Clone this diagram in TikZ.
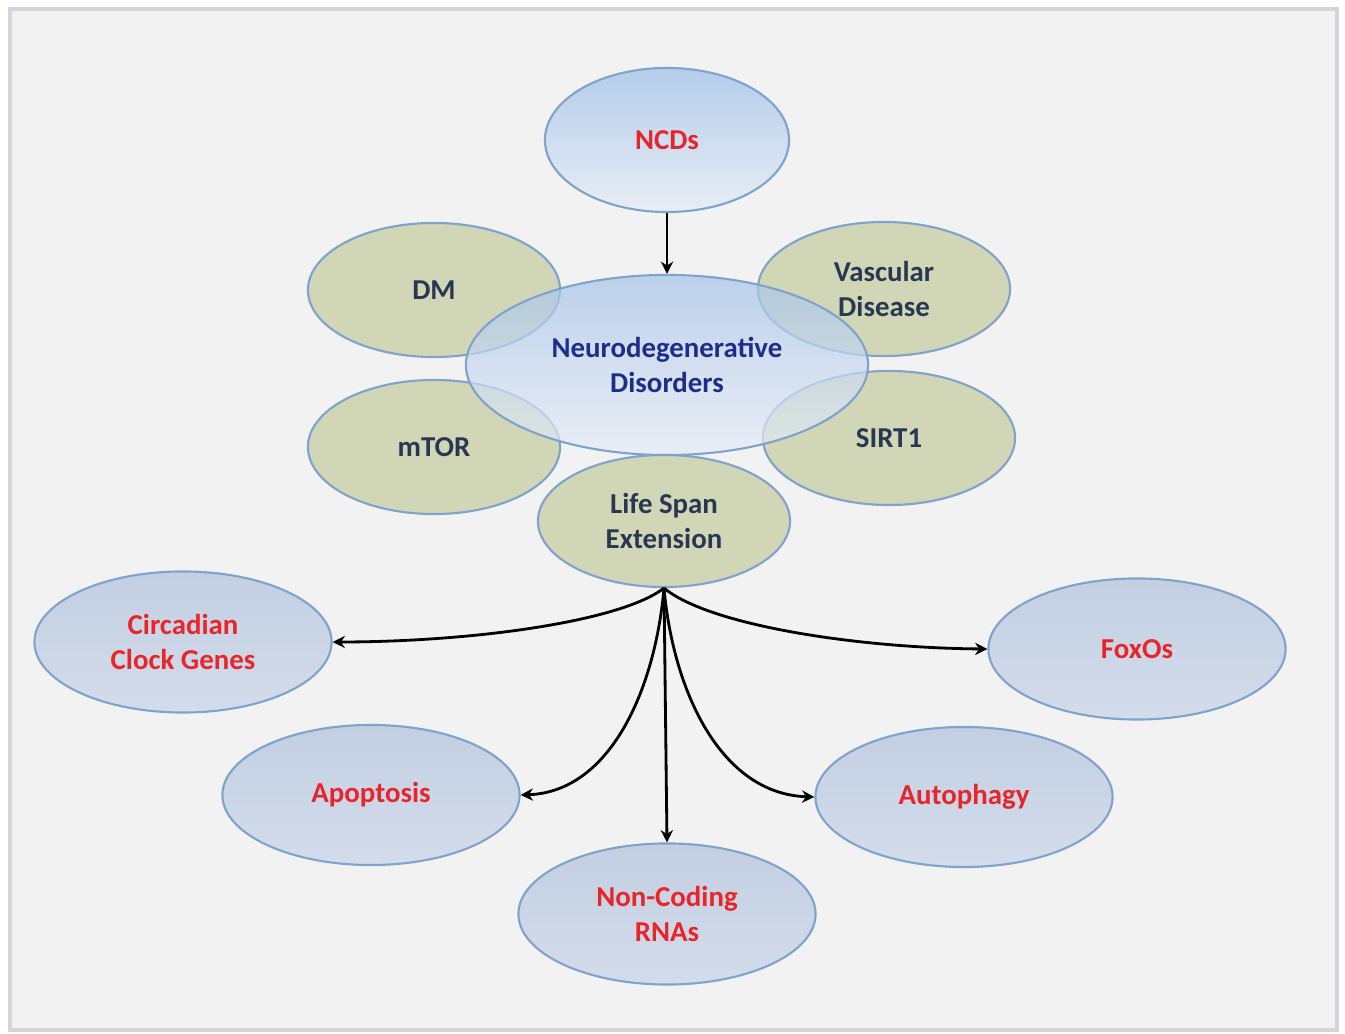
\documentclass[tikz,border=0pt]{standalone}
\usepackage{fontspec}
\setmainfont{Carlito}
\usetikzlibrary{shapes.geometric,arrows.meta}

\definecolor{paper}{HTML}{F2F2F2}
\definecolor{frameline}{HTML}{D4D4DC}
\definecolor{edgeblue}{HTML}{7FA3CC}
\definecolor{topblue}{HTML}{A6C3EA}
\definecolor{lowblue}{HTML}{E6EDF6}
\definecolor{greyblue}{HTML}{C3CFE2}
\definecolor{greyblue2}{HTML}{D3DCEA}
\definecolor{sage}{HTML}{CCD3AC}
\definecolor{slate}{HTML}{2A3752}
\definecolor{navy}{HTML}{1E2C8C}
\definecolor{alertred}{HTML}{E8252B}

\tikzset{
  bubble/.style={ellipse, draw=edgeblue, line width=0.6pt, inner sep=0pt,
    align=center, text opacity=1, font=\bfseries\fontsize{8.2}{10}\selectfont},
  topbubble/.style={bubble, top color=topblue, bottom color=lowblue, fill opacity=0.8},
  sagebubble/.style={bubble, fill=sage, fill opacity=0.85, text=slate,
    minimum width=2.52cm, minimum height=1.34cm},
  outbubble/.style={bubble, top color=greyblue, bottom color=greyblue2, text=alertred,
    minimum width=2.97cm, minimum height=1.41cm},
  link/.style={line width=0.8pt, -{Stealth[length=3.5pt,width=3.5pt]}}
}

\begin{document}
\begin{tikzpicture}[x=0.01cm, y=-0.01cm]
\useasboundingbox (0,0) rectangle (1345,1034);
\draw[draw=frameline, line width=1.2pt, fill=paper] (10,9) rectangle (1337,1030);

% top
\node[topbubble, text=alertred, minimum width=2.44cm, minimum height=1.44cm] (ncd) at (667,140) {NCDs};

% ring of factors
\node[sagebubble] (dm) at (434,290) {DM};
\node[sagebubble] (vasc) at (884,289) {Vascular\\Disease};
\node[sagebubble] (mtor) at (434,447) {mTOR};
\node[sagebubble] (sirt) at (889,438) {SIRT1};
\node[topbubble, fill opacity=0.7, text=navy, minimum width=4.02cm, minimum height=1.80cm] (neuro) at (667,365) {Neurodegenerative\\Disorders};
\node[sagebubble, minimum height=1.32cm] (life) at (664,521) {Life Span\\Extension};

% outcomes
\node[outbubble] (clock) at (183,642) {Circadian\\Clock Genes};
\node[outbubble] (foxo) at (1137,649) {FoxOs};
\node[outbubble, minimum height=1.40cm] (apop) at (371,795) {Apoptosis};
\node[outbubble, minimum height=1.40cm] (auto) at (964,797) {Autophagy};
\node[outbubble] (ncrna) at (667,914) {Non-Coding\\RNAs};

\draw[link] (ncd) -- (neuro);

\draw[link] (life.south) .. controls (620,622) and (470,642) .. (clock.east);
\draw[link] (life.south) .. controls (710,626) and (860,648) .. (foxo.west);
\draw[link] (life.south) .. controls (655,690) and (610,792) .. (apop.east);
\draw[link] (life.south) .. controls (673,690) and (720,794) .. (auto.west);
\draw[link] (life.south) -- (ncrna.north);
\end{tikzpicture}
\end{document}
